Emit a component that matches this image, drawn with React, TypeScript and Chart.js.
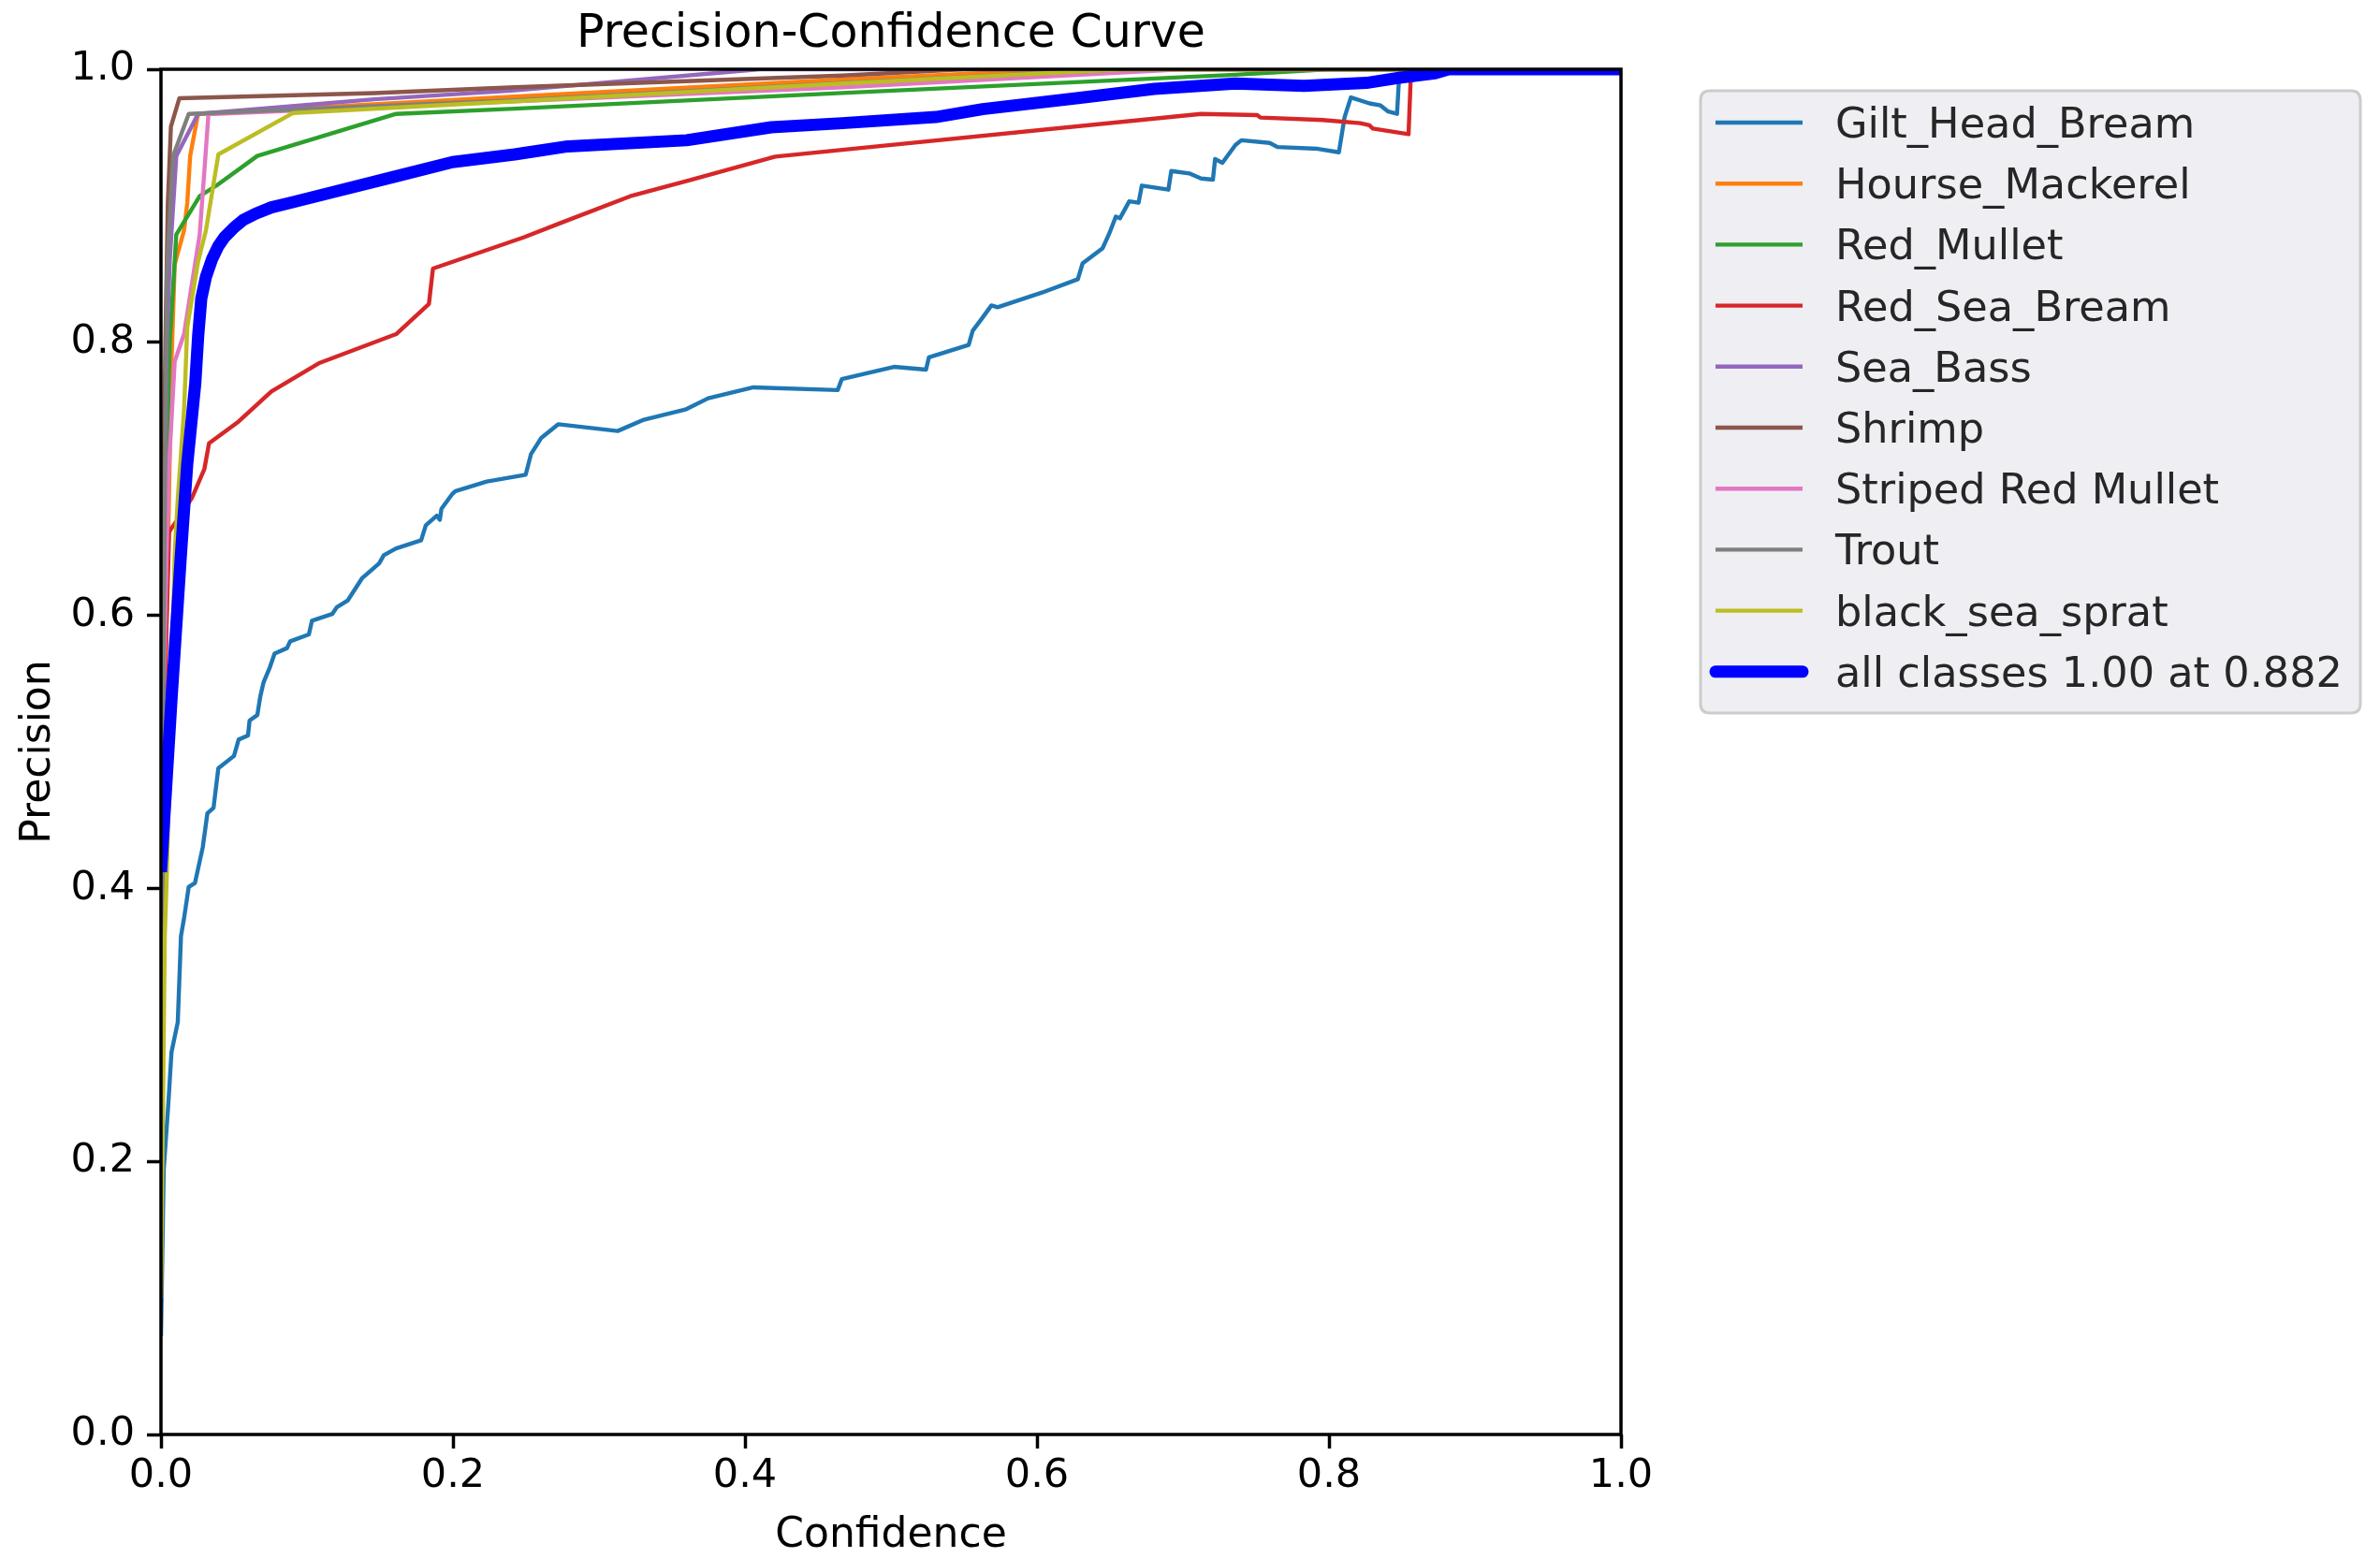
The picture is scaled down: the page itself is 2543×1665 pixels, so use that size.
import React, { useEffect, useRef } from "react";
import { Chart, registerables } from "chart.js";

Chart.register(...registerables);

const W = 2543;
const H = 1665;
const FONT = '"DejaVu Sans", "Liberation Sans", sans-serif';

const chartTitle = "Precision-Confidence Curve";
const xAxisTitle = "Confidence";
const yAxisTitle = "Precision";
const tickValues = [0, 0.2, 0.4, 0.6, 0.8, 1.0];

const classNames = [
  "Gilt_Head_Bream",
  "Hourse_Mackerel",
  "Red_Mullet",
  "Red_Sea_Bream",
  "Sea_Bass",
  "Shrimp",
  "Striped Red Mullet",
  "Trout",
  "black_sea_sprat",
];
const classColors = [
  "#1f77b4",
  "#ff7f0e",
  "#2ca02c",
  "#d62728",
  "#9467bd",
  "#8c564b",
  "#e377c2",
  "#7f7f7f",
  "#bcbd22",
];
const allClassesLabel = "all classes 1.00 at 0.882";
const allClassesColor = "#0000ff";

// [confidence, precision]
const giltHeadBream: [number, number][] = [
  [0, 0.072], [0.0019, 0.194], [0.0051, 0.243], [0.0072, 0.28], [0.0115, 0.302],
  [0.0137, 0.365], [0.0158, 0.378], [0.019, 0.401], [0.0233, 0.404], [0.0286, 0.43],
  [0.0318, 0.455], [0.036, 0.459], [0.0393, 0.488], [0.05, 0.497], [0.0532, 0.509],
  [0.0596, 0.512], [0.0607, 0.523], [0.066, 0.527], [0.0681, 0.541], [0.0703, 0.551],
  [0.0746, 0.562], [0.0778, 0.572], [0.0863, 0.576], [0.0885, 0.581], [0.1013, 0.586],
  [0.1034, 0.596], [0.1173, 0.601], [0.1205, 0.606], [0.128, 0.611], [0.1376, 0.627],
  [0.1494, 0.638], [0.1526, 0.644], [0.161, 0.649], [0.1782, 0.655], [0.1814, 0.666],
  [0.1889, 0.673], [0.191, 0.67], [0.1921, 0.678], [0.1996, 0.689], [0.2017, 0.691],
  [0.2231, 0.698], [0.2498, 0.703], [0.2534, 0.718], [0.2605, 0.73], [0.2722, 0.74],
  [0.3128, 0.735], [0.33, 0.743], [0.3598, 0.751], [0.3748, 0.759], [0.4058, 0.767],
  [0.4635, 0.765], [0.4663, 0.773], [0.502, 0.782], [0.524, 0.78], [0.526, 0.789],
  [0.5532, 0.798], [0.556, 0.8085], [0.5617, 0.8166], [0.5688, 0.827], [0.573, 0.8257],
  [0.6034, 0.8364], [0.628, 0.8462], [0.6312, 0.8577], [0.645, 0.869], [0.6494, 0.8794],
  [0.654, 0.892], [0.6568, 0.8908], [0.6632, 0.9033], [0.6696, 0.9022], [0.6718, 0.9148],
  [0.69, 0.9118], [0.692, 0.9255], [0.7043, 0.9237], [0.7124, 0.92], [0.7205, 0.9191],
  [0.722, 0.9342], [0.727, 0.9315], [0.7359, 0.9445], [0.74, 0.948], [0.7594, 0.946],
  [0.7647, 0.943], [0.7925, 0.9417], [0.8068, 0.9392], [0.8107, 0.965], [0.815, 0.9794],
  [0.8278, 0.975], [0.8353, 0.9735], [0.8406, 0.969], [0.8466, 0.9673], [0.848, 0.9936],
  [0.849, 1.0], [1.0, 1.0],
];
const hourseMackerel: [number, number][] = [
  [0, 0.4], [0.005, 0.66], [0.0073, 0.788], [0.0094, 0.857], [0.0158, 0.882],
  [0.018, 0.902], [0.02, 0.9365], [0.0254, 0.9673], [0.2423, 0.98], [0.4667, 0.9925],
  [0.62, 1.0], [1.0, 1.0],
];
const redMullet: [number, number][] = [
  [0, 0.55], [0.006, 0.8], [0.0105, 0.879], [0.0265, 0.907], [0.0383, 0.915],
  [0.066, 0.9365], [0.1611, 0.9673], [0.2423, 0.9711], [0.4667, 0.9826], [0.736, 0.996],
  [0.8, 1.0], [1.0, 1.0],
];
const redSeaBream: [number, number][] = [
  [0, 0.45], [0.004, 0.6], [0.0056, 0.661], [0.0073, 0.664], [0.0126, 0.672],
  [0.0212, 0.686], [0.0297, 0.707], [0.0329, 0.726], [0.0532, 0.742], [0.0756, 0.764],
  [0.1088, 0.785], [0.1611, 0.806], [0.1835, 0.828], [0.1863, 0.854], [0.2487, 0.877],
  [0.274, 0.8875], [0.3214, 0.907], [0.362, 0.9187], [0.4207, 0.936], [0.4667, 0.941],
  [0.7124, 0.9673], [0.7509, 0.9664], [0.753, 0.9646], [0.7957, 0.9628], [0.8214, 0.9605],
  [0.8278, 0.9589], [0.83, 0.9566], [0.8545, 0.9525], [0.856, 0.9936], [0.857, 1.0],
  [1.0, 1.0],
];
const seaBass: [number, number][] = [
  [0, 0.5], [0.004, 0.8], [0.006, 0.86], [0.0105, 0.9365], [0.0254, 0.9673],
  [0.146, 0.978], [0.2423, 0.9845], [0.41, 1.0], [1.0, 1.0],
];
const shrimp: [number, number][] = [
  [0, 0.55], [0.003, 0.8], [0.0047, 0.902], [0.0068, 0.958], [0.0126, 0.9788],
  [0.146, 0.9825], [0.2423, 0.9868], [0.4667, 0.9954], [0.55, 1.0], [1.0, 1.0],
];
const stripedRedMullet: [number, number][] = [
  [0, 0.45], [0.005, 0.7], [0.0094, 0.786], [0.0158, 0.806], [0.0265, 0.879],
  [0.0297, 0.925], [0.0325, 0.967], [0.2423, 0.9765], [0.4667, 0.9868], [0.7, 1.0],
  [1.0, 1.0],
];
const trout: [number, number][] = [
  [0, 0.1], [0.002, 0.6], [0.004, 0.85], [0.0083, 0.9365], [0.019, 0.9673],
  [0.2423, 0.9773], [0.4667, 0.99], [0.66, 1.0], [1.0, 1.0],
];
const blackSeaSprat: [number, number][] = [
  [0, 0.1], [0.0026, 0.365], [0.004, 0.41], [0.0094, 0.645], [0.0115, 0.685],
  [0.0158, 0.75], [0.0169, 0.78], [0.018, 0.811], [0.0254, 0.859], [0.0308, 0.882],
  [0.0393, 0.9376], [0.0906, 0.968], [0.2423, 0.9765], [0.4667, 0.9895], [0.66, 1.0],
  [1.0, 1.0],
];
const allClasses: [number, number][] = [
  [0, 0.412], [0.0073, 0.54], [0.0137, 0.645], [0.018, 0.711], [0.0235, 0.77],
  [0.0255, 0.805], [0.0276, 0.832], [0.0308, 0.848], [0.035, 0.861], [0.0393, 0.8705],
  [0.0436, 0.8771], [0.05, 0.884], [0.0564, 0.8896], [0.065, 0.8943], [0.0756, 0.8988],
  [0.0885, 0.9022], [0.1141, 0.909], [0.1611, 0.9216], [0.1996, 0.932], [0.2423, 0.9376],
  [0.2786, 0.9435], [0.36, 0.948], [0.418, 0.9575], [0.4667, 0.9605], [0.5308, 0.965],
  [0.5628, 0.9708], [0.6269, 0.9787], [0.6803, 0.9856], [0.7359, 0.9895], [0.7829, 0.9879],
  [0.8256, 0.99], [0.847, 0.9936], [0.8726, 0.997], [0.882, 1.0], [1.0, 1.0],
];

const classSeries = [
  giltHeadBream,
  hourseMackerel,
  redMullet,
  redSeaBream,
  seaBass,
  shrimp,
  stripedRedMullet,
  trout,
  blackSeaSprat,
];

const toPoints = (arr: [number, number][]) => arr.map(([x, y]) => ({ x, y }));

const decorPlugin = {
  id: "decor",
  afterDatasetsDraw(chart: any) {
    const { ctx, chartArea: a } = chart;
    ctx.save();
    ctx.strokeStyle = "#000";
    ctx.lineWidth = 3.5;
    ctx.lineJoin = "miter";
    ctx.strokeRect(a.left, a.top, a.right - a.left, a.bottom - a.top);
    ctx.restore();
  },
  afterDraw(chart: any) {
    const { ctx, chartArea: a } = chart;
    const cx = (a.left + a.right) / 2;
    const cy = (a.top + a.bottom) / 2;
    ctx.save();
    ctx.fillStyle = "#000";
    ctx.textAlign = "center";
    ctx.textBaseline = "alphabetic";
    ctx.font = `49px ${FONT}`;
    ctx.fillText(chartTitle, cx, 50);
    ctx.font = `44px ${FONT}`;
    ctx.fillText(xAxisTitle, cx, 1653);
    ctx.save();
    ctx.translate(53, cy);
    ctx.rotate(-Math.PI / 2);
    ctx.fillText(yAxisTitle, 0, 0);
    ctx.restore();

    // legend
    const bx = 1817, by = 97, bw = 705, bh = 665, r = 10;
    ctx.beginPath();
    ctx.moveTo(bx + r, by);
    ctx.lineTo(bx + bw - r, by);
    ctx.quadraticCurveTo(bx + bw, by, bx + bw, by + r);
    ctx.lineTo(bx + bw, by + bh - r);
    ctx.quadraticCurveTo(bx + bw, by + bh, bx + bw - r, by + bh);
    ctx.lineTo(bx + r, by + bh);
    ctx.quadraticCurveTo(bx, by + bh, bx, by + bh - r);
    ctx.lineTo(bx, by + r);
    ctx.quadraticCurveTo(bx, by, bx + r, by);
    ctx.closePath();
    ctx.fillStyle = "#eeeef3";
    ctx.fill();
    ctx.strokeStyle = "#cccccc";
    ctx.lineWidth = 3;
    ctx.stroke();

    const labels = [...classNames, allClassesLabel];
    const colors = [...classColors, allClassesColor];
    ctx.textAlign = "left";
    ctx.font = `44.6px ${FONT}`;
    labels.forEach((lab, i) => {
      const yc = 131 + i * 65.2;
      ctx.beginPath();
      ctx.moveTo(1833, yc);
      ctx.lineTo(1926, yc);
      ctx.strokeStyle = colors[i];
      const isAll = i === labels.length - 1;
      ctx.lineWidth = isAll ? 13 : 4.4;
      ctx.lineCap = isAll ? "round" : "butt";
      ctx.stroke();
      ctx.fillStyle = "#262626";
      ctx.fillText(lab, 1961, yc + 16);
    });
    ctx.restore();
  },
};

export default function App() {
  const ref = useRef<HTMLCanvasElement | null>(null);

  useEffect(() => {
    if (!ref.current) return;
    const datasets: any[] = classSeries.map((s, i) => ({
      label: classNames[i],
      data: toPoints(s),
      borderColor: classColors[i],
      backgroundColor: classColors[i],
      borderWidth: 4.4,
      pointRadius: 0,
      tension: 0,
      fill: false,
      clip: 0,
      borderJoinStyle: "round",
      order: classSeries.length - i,
    }));
    datasets.push({
      label: allClassesLabel,
      data: toPoints(allClasses),
      borderColor: allClassesColor,
      backgroundColor: allClassesColor,
      borderWidth: 13,
      pointRadius: 0,
      tension: 0,
      fill: false,
      clip: 0,
      borderJoinStyle: "round",
      order: 0,
    });

    const tickFont = { family: FONT, size: 43 };
    const grid = {
      display: true,
      drawOnChartArea: false,
      drawTicks: true,
      tickLength: 15,
      tickWidth: 3.5,
      tickColor: "#000",
      color: "#000",
    };

    const chart = new Chart(ref.current, {
      type: "line",
      data: { datasets },
      options: {
        animation: false,
        responsive: false,
        maintainAspectRatio: false,
        devicePixelRatio: 1,
        events: [],
        layout: { padding: { left: 0, top: 74, right: W - 1732, bottom: 0 } },
        plugins: {
          legend: { display: false },
          tooltip: { enabled: false },
          title: { display: false },
        },
        scales: {
          x: {
            type: "linear",
            min: 0,
            max: 1,
            afterBuildTicks: (s: any) => {
              s.ticks = tickValues.map((v) => ({ value: v }));
            },
            ticks: {
              callback: (v: any) => Number(v).toFixed(1),
              font: tickFont,
              color: "#000",
              padding: 4,
              maxRotation: 0,
              autoSkip: false,
            },
            grid,
            border: { display: false },
            afterFit: (s: any) => {
              s.height = H - 1533;
            },
          },
          y: {
            type: "linear",
            min: 0,
            max: 1,
            afterBuildTicks: (s: any) => {
              s.ticks = tickValues.map((v) => ({ value: v }));
            },
            ticks: {
              callback: (v: any) => Number(v).toFixed(1),
              font: tickFont,
              color: "#000",
              padding: 13,
              autoSkip: false,
            },
            grid,
            border: { display: false },
            afterFit: (s: any) => {
              s.width = 172;
            },
          },
        },
      },
      plugins: [decorPlugin],
    } as any);

    return () => chart.destroy();
  }, []);

  return (
    <canvas
      ref={ref}
      width={W}
      height={H}
      style={{ position: "fixed", left: 0, top: 0, width: W, height: H, background: "#fff" }}
    />
  );
}
